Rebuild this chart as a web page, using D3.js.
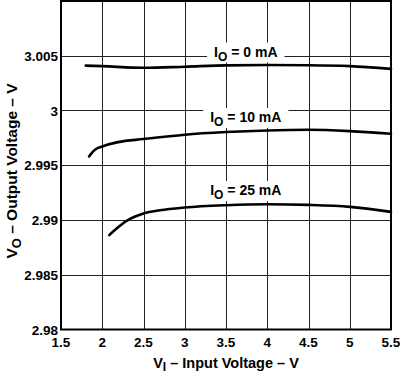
<!DOCTYPE html>
<html>
<head>
<meta charset="utf-8">
<script src="https://cdn.jsdelivr.net/npm/d3@7"></script>
<style>
  body { margin: 0; background: #fff; }
  text { font-family: "Liberation Sans", Arial, sans-serif; font-weight: bold; fill: #000; }
</style>
</head>
<body>
<div id="chart"></div>
<script>
// values
const xTicks = [1.5, 2, 2.5, 3, 3.5, 4, 4.5, 5, 5.5];
const yTicks = [2.98, 2.985, 2.99, 2.995, 3, 3.005];

const vin0 = [1.80, 2.0, 2.5, 3.0, 3.5, 4.0, 4.5, 5.0, 5.5];
const vout0 = [3.0041, 3.00405, 3.0039, 3.0040, 3.00412, 3.00415, 3.00413, 3.00405, 3.0038];

const vin10 = [1.84, 1.89, 1.93, 2.0, 2.19, 2.5, 3.0, 3.5, 4.0, 4.5, 5.0, 5.5];
const vout10 = [2.9958, 2.99627, 2.99651, 2.99672, 2.99711, 2.99739, 2.99779, 2.99803, 2.99818, 2.99824, 2.99812, 2.99788];

const vin25 = [2.085, 2.174, 2.295, 2.5, 2.7, 3.0, 3.5, 4.0, 4.5, 5.0, 5.5];
const vout25 = [2.98862, 2.98922, 2.98992, 2.9906, 2.99089, 2.99114, 2.99135, 2.99144, 2.99138, 2.9912, 2.99074];

const seriesNames = ["0", "10", "25"];
const labelAt = [[3.74, 3.00493], [3.74, 2.99895], [3.74, 2.99228]];

const W = 402, H = 373;
const x = d3.scaleLinear().domain([1.5, 5.5]).range([61, 391]);
const y = d3.scaleLinear().domain([2.98, 3.01]).range([329.5, 1]);

const svg = d3.select("#chart").append("svg").attr("width", W).attr("height", H);

// grid
svg.append("g").selectAll("line").data(xTicks.slice(1, -1)).join("line")
  .attr("x1", d => Math.round(x(d)) + 0.5).attr("x2", d => Math.round(x(d)) + 0.5)
  .attr("y1", y(3.01)).attr("y2", y(2.98))
  .attr("stroke", "#222").attr("stroke-width", 1);
svg.append("g").selectAll("line").data(yTicks.slice(1)).join("line")
  .attr("y1", d => Math.round(y(d)) + 0.5).attr("y2", d => Math.round(y(d)) + 0.5)
  .attr("x1", x(1.5)).attr("x2", x(5.5))
  .attr("stroke", "#222").attr("stroke-width", 1);

// tick labels
svg.append("g").selectAll("text").data(xTicks).join("text")
  .attr("x", d => x(d)).attr("y", 347)
  .attr("text-anchor", "middle").style("font-size", "13.5px")
  .text(d => d);
svg.append("g").selectAll("text").data(yTicks).join("text")
  .attr("x", 58).attr("y", d => y(d) + 5)
  .attr("text-anchor", "end").style("font-size", "13.5px")
  .text(d => d);

// curves
const line = d3.line().x(d => x(d[0])).y(d => y(d[1])).curve(d3.curveMonotoneX);
const series = [d3.zip(vin0, vout0), d3.zip(vin10, vout10), d3.zip(vin25, vout25)];
svg.append("g").selectAll("path").data(series).join("path")
  .attr("d", line).attr("fill", "none")
  .attr("stroke", "#000").attr("stroke-width", 2.6).attr("stroke-linecap", "round");

// curve labels with white boxes
seriesNames.forEach((s, i) => {
  const g = svg.append("g");
  const bg = g.append("rect").attr("fill", "#fff");
  const t = g.append("text")
    .attr("x", x(labelAt[i][0])).attr("y", y(labelAt[i][1]))
    .attr("text-anchor", "middle").style("font-size", "14px");
  t.append("tspan").text("I");
  t.append("tspan").attr("dy", 4).style("font-size", "12px").text("O");
  t.append("tspan").attr("dy", -4).text(" = " + s + " mA");
  const b = t.node().getBBox();
  bg.attr("x", b.x - 7).attr("y", b.y - 1).attr("width", b.width + 14).attr("height", b.height);
});

// frame
svg.append("rect")
  .attr("x", x(1.5)).attr("y", y(3.01))
  .attr("width", x(5.5) - x(1.5)).attr("height", y(2.98) - y(3.01))
  .attr("fill", "none").attr("stroke", "#000").attr("stroke-width", 2);

// axis titles
const xt = svg.append("text").attr("x", 226).attr("y", 368)
  .attr("text-anchor", "middle").style("font-size", "14.5px");
xt.append("tspan").text("V");
xt.append("tspan").attr("dy", 2.5).style("font-size", "12px").text("I");
xt.append("tspan").attr("dy", -2.5).text(" \u2013 Input Voltage \u2013 V");

const yt = svg.append("text").attr("transform", "translate(17,171) rotate(-90)")
  .attr("text-anchor", "middle").style("font-size", "15.5px");
yt.append("tspan").text("V");
yt.append("tspan").attr("dy", 4).style("font-size", "13px").text("O");
yt.append("tspan").attr("dy", -4).text(" \u2013 Output Voltage \u2013 V");
</script>
</body>
</html>
